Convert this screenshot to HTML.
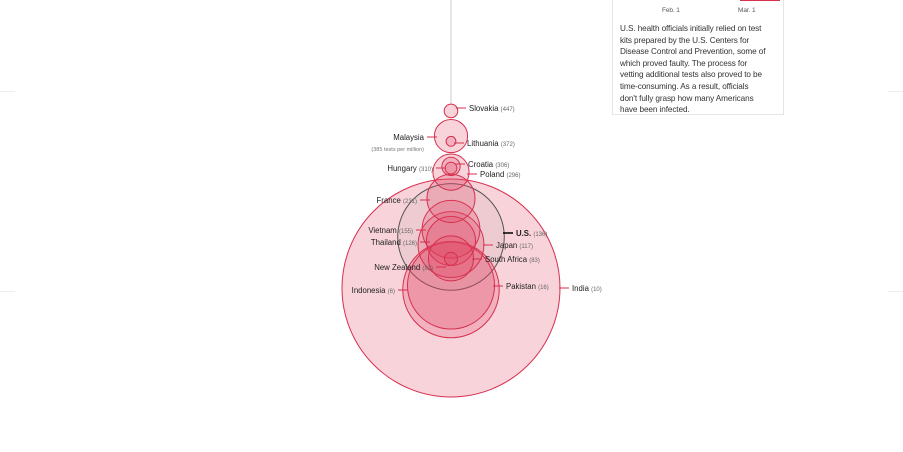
<!DOCTYPE html>
<html><head><meta charset="utf-8"><style>
body{margin:0;width:903px;height:452px;background:#fff;overflow:hidden;font-family:"Liberation Sans",sans-serif;position:relative}
.note{position:absolute;left:612px;top:-2px;width:160px;height:116px;border:1px solid #e6e6e6;border-top:none;padding:0 3px 0 7px;font-size:8.2px;line-height:11.6px;color:#333;white-space:nowrap;letter-spacing:-0.1px}
.edge{position:absolute;height:1px;background:#eee;width:15px}
</style></head><body>
<div class="edge" style="left:0;top:91px"></div>
<div class="edge" style="right:0;top:91px"></div>
<div class="edge" style="left:0;top:291px"></div>
<div class="edge" style="right:0;top:291px"></div>
<div class="note">
<div style="position:relative;height:28px">
<div style="position:absolute;left:30px;top:0;width:130px;height:2px;background:#f3c6cf"></div>
<div style="position:absolute;left:120px;top:0;width:40px;height:3px;background:#d6304f"></div>
<div style="position:absolute;left:42px;top:7px;font-size:6.5px;color:#555">Feb. 1</div>
<div style="position:absolute;left:118px;top:7px;font-size:6.5px;color:#555">Mar. 1</div>
</div>
<div style="margin-top:-3px">U.S. health officials initially relied on test<br>kits prepared by the U.S. Centers for<br>Disease Control and Prevention, some of<br>which proved faulty. The process for<br>vetting additional tests also proved to be<br>time-consuming. As a result, officials<br>don't fully grasp how many Americans<br>have been infected.</div>
</div>
<svg id="chart" width="903" height="452" style="position:absolute;left:0;top:0"></svg>
<script>
const countries=["India","Indonesia","Pakistan","U.S.","Japan","Vietnam","Thailand","France","South Africa","Malaysia","Poland","Hungary","Slovakia","New Zealand","Croatia","Lithuania"];
const tests=[10,6,16,136,117,155,126,231,83,385,296,310,447,82,306,372];
const population=[1380,270,220,330,126,97,70,67,59,32,38,9.7,5.4,4.9,4,2.8];
// label layout: side (1 right, -1 left), label x, label y
const side=[1,-1,1,1,1,-1,-1,-1,1,-1,1,-1,1,-1,1,1];
const labX=[572,395,506,516,496,413,417,417,485,424,480,433,469,433,468,467];
const labY=[288,290,286,233,245,230,242,200,259,137,174,168,108,267,164,143];
const cx=451;
const yScale=t=>292-0.405*t;
const rScale=p=>2.934*Math.sqrt(p);
const svg=document.getElementById('chart');
const NS='http://www.w3.org/2000/svg';
function mk(tag,attrs){const e=document.createElementNS(NS,tag);for(const k in attrs)e.setAttribute(k,attrs[k]);svg.appendChild(e);return e;}
const ln=mk('line',{x1:cx,y1:0,x2:cx,y2:yScale(447)-7,stroke:'#ccc','stroke-width':1});


const order=countries.map((c,i)=>i).sort((a,b)=>population[b]-population[a]);
order.forEach(i=>{
  const us=countries[i]==="U.S.";
  const c=mk('circle',{cx:cx,cy:yScale(tests[i]),r:rScale(population[i]),fill:us?'rgba(120,120,120,0.08)':'rgba(224,70,100,0.24)',stroke:us?'#555':'#d6304f','stroke-width':1});
  
  
});
countries.forEach((name,i)=>{
  const us=name==="U.S.";
  const lx=labX[i]-side[i]*3;
  const l=mk('line',{x1:lx-side[i]*10,y1:labY[i],x2:lx,y2:labY[i],stroke:us?'#000':'#d6304f','stroke-width':us?1.5:1});
  
  
  const t=mk('text',{x:labX[i],y:labY[i]+3,'font-size':7.8,fill:'#222','text-anchor':side[i]>0?'start':'end','font-weight':us?'bold':'normal'});
  t.textContent=name+' ';
  const s=document.createElementNS(NS,'tspan');
  s.setAttribute('font-size','6');s.setAttribute('fill','#666');s.setAttribute('font-weight','normal');
  s.textContent='('+tests[i]+')';
  if(name!=="Malaysia")t.appendChild(s);
  
  
  if(name==="Malaysia"){
    const t2=mk('text',{x:labX[i],y:labY[i]+14,'font-size':5.5,fill:'#777','text-anchor':'end'});
    t2.textContent='('+tests[i]+' tests per million)';
    
    
  }
});
</script>
</body></html>
